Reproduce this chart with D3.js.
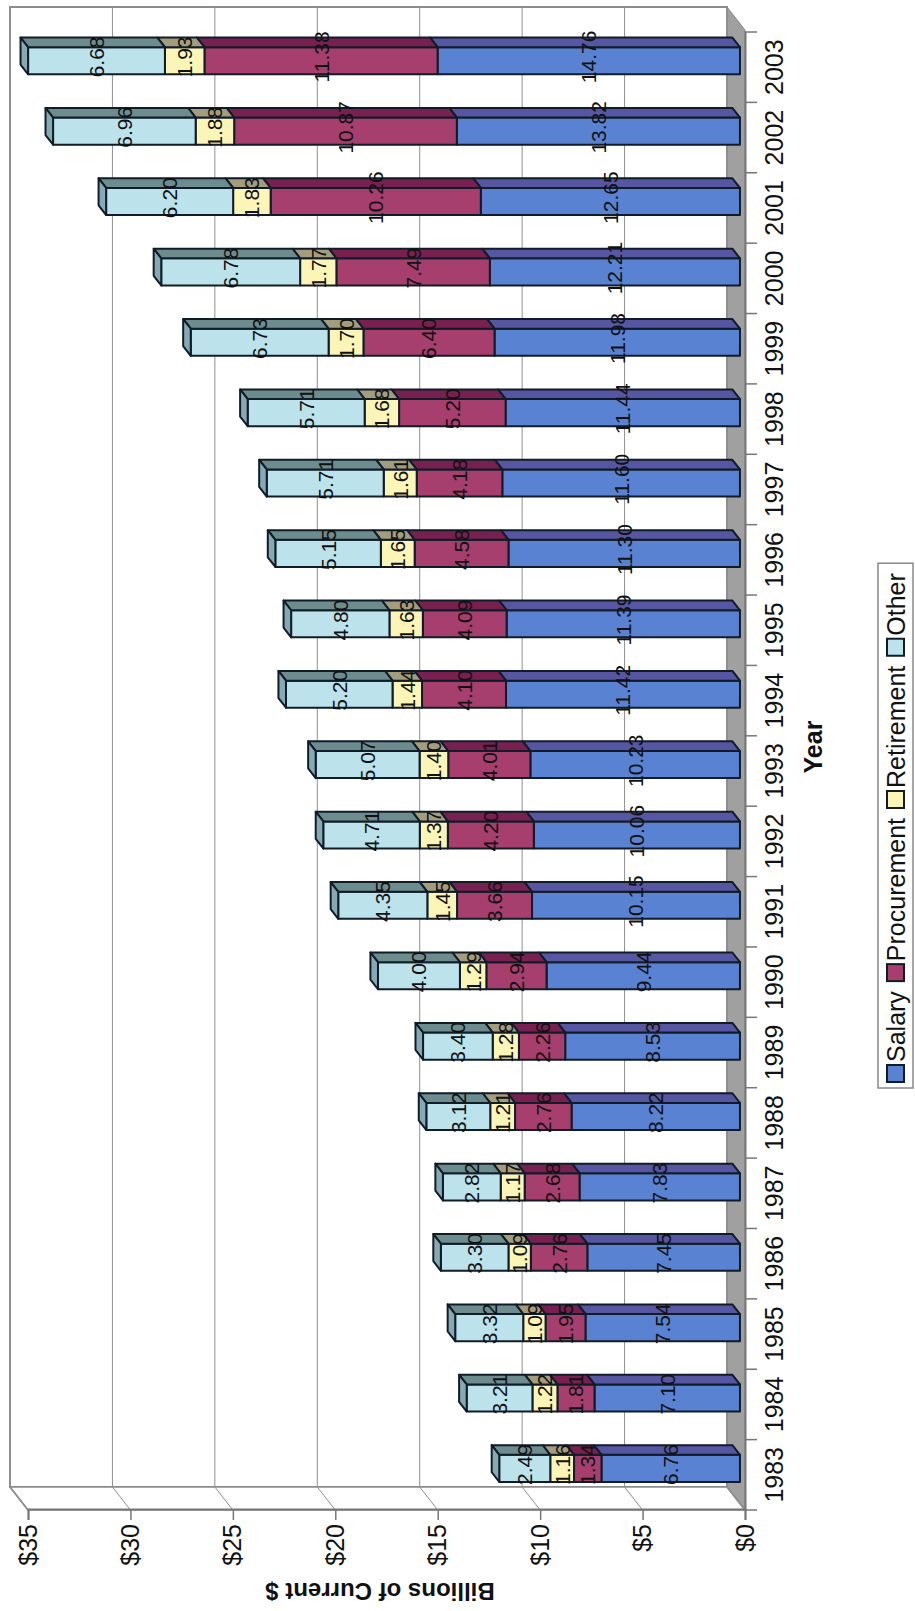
<!DOCTYPE html>
<html><head><meta charset="utf-8">
<script src="https://cdn.jsdelivr.net/npm/d3@7"></script>
<style>html,body{margin:0;padding:0;background:#fff;} svg{display:block;}</style>
</head><body>
<svg id="c" width="915" height="1611"></svg>
<script>
// ---- data ----
const years = [1983,1984,1985,1986,1987,1988,1989,1990,1991,1992,1993,1994,1995,1996,1997,1998,1999,2000,2001,2002,2003];
const seriesNames = ["Salary","Procurement","Retirement","Other"];
const salary      = [6.76,7.10,7.54,7.45,7.83,8.22,8.53,9.44,10.15,10.06,10.23,11.42,11.39,11.30,11.60,11.44,11.98,12.21,12.65,13.82,14.76];
const procurement = [1.34,1.81,1.95,2.76,2.68,2.76,2.26,2.94,3.66,4.20,4.01,4.10,4.09,4.58,4.18,5.20,6.40,7.49,10.26,10.87,11.38];
const retirement  = [1.16,1.22,1.09,1.09,1.17,1.21,1.28,1.29,1.45,1.37,1.40,1.44,1.63,1.65,1.61,1.68,1.70,1.77,1.83,1.88,1.93];
const other       = [2.49,3.21,3.32,3.30,2.82,3.12,3.40,4.00,4.35,4.71,5.07,5.20,4.80,5.15,5.71,5.71,6.73,6.78,6.20,6.96,6.68];
const valueTicks  = [0,5,10,15,20,25,30,35];
const tickLabels  = ["$0","$5","$10","$15","$20","$25","$30","$35"];
const valueTitle  = "Billions of Current $";
const categoryTitle = "Year";

// ---- styling ----
const faceColor = {Salary:"#5a82d2", Procurement:"#a63f6d", Retirement:"#fbf5b7", Other:"#bce2ec"};
const sideColor = {Salary:"#5656a2", Procurement:"#782050", Retirement:"#a39d7e", Other:"#6d8c8e"};
const topColor  = {Salary:"#4a6fb8", Procurement:"#8e2f5c", Retirement:"#d8d29a", Other:"#86aab4"};
const FONT = "'Liberation Sans', Arial, Helvetica, sans-serif";

const rows = years.map((y,i)=>({year:y, Salary:salary[i], Procurement:procurement[i], Retirement:retirement[i], Other:other[i]}));
const stacked = d3.stack().keys(seriesNames)(rows);

const svg = d3.select("#c");
// chart is drawn in landscape frame (1611 x 915) then rotated to portrait
const g = svg.append("g").attr("transform","translate(0,1611) rotate(-90)");

// front-plane scales
const x = d3.scaleBand().domain(years).range([101,1579]).paddingInner(0.615).paddingOuter(0.3075);
const y = d3.scaleLinear().domain([0,35]).range([745,28]);
// depth vector (back minus front)
const DU = 23, DV = -18;
const P = (u,v,z)=>[u+z*DU, v+z*DV];
const poly = pts => "M"+pts.map(p=>p.join(",")).join("L")+"Z";

// ---- walls ----
g.append("path").attr("d",poly([P(101,y(0),0),P(101,y(0),1),P(1581,y(0),1),P(1581,y(0),0)]))
  .attr("fill","#a0a0a0").attr("stroke","#8a8a8a").attr("stroke-width",1);
g.append("path").attr("d",poly([P(101,y(0),1),P(1581,y(0),1),P(1581,y(35),1),P(101,y(35),1)]))
  .attr("fill","#fff").attr("stroke","#8c8c8c").attr("stroke-width",2);
g.append("path").attr("d",poly([P(101,y(0),0),P(101,y(0),1),P(101,y(35),1),P(101,y(35),0)]))
  .attr("fill","#fff").attr("stroke","#8c8c8c").attr("stroke-width",1.5);
valueTicks.forEach(t=>{
  const a=P(101,y(t),0), b=P(101,y(t),1), c=P(1581,y(t),1);
  g.append("path").attr("d",`M${a}L${b}L${c}`).attr("fill","none")
   .attr("stroke","#8f8f8f").attr("stroke-width", t===0||t===35?1.6:1);
});
// value axis (front)
const vAxis = d3.axisLeft(y).tickValues(valueTicks).tickFormat((d,i)=>tickLabels[i]).tickSize(10).tickPadding(4);
const va = g.append("g").attr("transform","translate(101,0)").call(vAxis);
va.select(".domain").attr("stroke","#777").attr("stroke-width",2);
va.selectAll(".tick line").attr("stroke","#777").attr("stroke-width",1.5);
va.selectAll(".tick text").attr("font-family",FONT).attr("font-size",25).attr("fill","#111");
// category axis
const cAxis = d3.axisBottom(x).tickSize(0).tickPadding(20);
const ca = g.append("g").attr("transform",`translate(0,${y(0)})`).call(cAxis);
ca.select(".domain").attr("stroke","#777").attr("stroke-width",2);
ca.selectAll(".tick text").attr("font-family",FONT).attr("font-size",25).attr("fill","#111");
const step = x.step();
g.append("g").selectAll("line").data(d3.range(years.length+1)).join("line")
  .attr("x1",i=>101+i*step).attr("x2",i=>101+i*step)
  .attr("y1",y(0)).attr("y2",y(0)+12).attr("stroke","#777").attr("stroke-width",1.5);

// ---- bars ----
const Z0 = 0.28, Z1 = 0.70;
const bw = x.bandwidth();
const barG = g.append("g");
years.forEach((yr,i)=>{
  const uL = x(yr), uR = uL+bw;
  stacked.forEach((s,k)=>{
    const d = s[i], key = s.key;
    const vB = y(d[0]), vT = y(d[1]);
    barG.append("path").attr("d",poly([P(uL,vB,Z0),P(uR,vB,Z0),P(uR,vT,Z0),P(uL,vT,Z0)]))
      .attr("fill",faceColor[key]).attr("stroke","#101c28").attr("stroke-width",2).attr("stroke-linejoin","round");
    barG.append("path").attr("d",poly([P(uR,vB,Z0),P(uR,vB,Z1),P(uR,vT,Z1),P(uR,vT,Z0)]))
      .attr("fill",sideColor[key]).attr("stroke","#101c28").attr("stroke-width",2).attr("stroke-linejoin","round");
    if(k===stacked.length-1){
      barG.append("path").attr("d",poly([P(uL,vT,Z0),P(uR,vT,Z0),P(uR,vT,Z1),P(uL,vT,Z1)]))
        .attr("fill",topColor[key]).attr("stroke","#101c28").attr("stroke-width",2).attr("stroke-linejoin","round");
    }
  });
});
// labels
years.forEach((yr,i)=>{
  const uC = x(yr)+bw/2 + Z0*DU + (Z1-Z0)*DU/2 - 1;
  stacked.forEach(s=>{
    const d = s[i];
    const vC = (y(d[0])+y(d[1]))/2 + Z0*DV;
    g.append("text").attr("x",uC).attr("y",vC).attr("text-anchor","middle").attr("dominant-baseline","central")
      .attr("font-family",FONT).attr("font-size",21).attr("fill","#111").text(d3.format(".2f")(d.data[s.key]));
  });
});

// ---- titles ----
g.append("text").attr("transform","translate(20,380) rotate(-90)").attr("text-anchor","middle")
  .attr("dominant-baseline","central").attr("font-family",FONT).attr("font-weight","bold").attr("font-size",24)
  .attr("fill","#111").text(valueTitle);
g.append("text").attr("x",864).attr("y",813).attr("text-anchor","middle").attr("dominant-baseline","central")
  .attr("font-family",FONT).attr("font-weight","bold").attr("font-size",25).attr("fill","#111").text(categoryTitle);

// ---- legend ----
const lg = g.append("g");
const box = lg.append("rect").attr("x",523).attr("y",878).attr("width",533).attr("height",35)
  .attr("fill","#fff").attr("stroke","#888").attr("stroke-width",1.5);
let cu = 529;
seriesNames.forEach(n=>{
  lg.append("rect").attr("x",cu).attr("y",887).attr("width",17).attr("height",17)
    .attr("fill",faceColor[n]).attr("stroke","#101c28").attr("stroke-width",2);
  const t = lg.append("text").attr("x",cu+20).attr("y",896).attr("dominant-baseline","central")
    .attr("font-family",FONT).attr("font-size",25).attr("fill","#111").text(n);
  cu += 20 + t.node().getComputedTextLength() + 10;
});
box.attr("width", cu - 523);
</script>
</body></html>
